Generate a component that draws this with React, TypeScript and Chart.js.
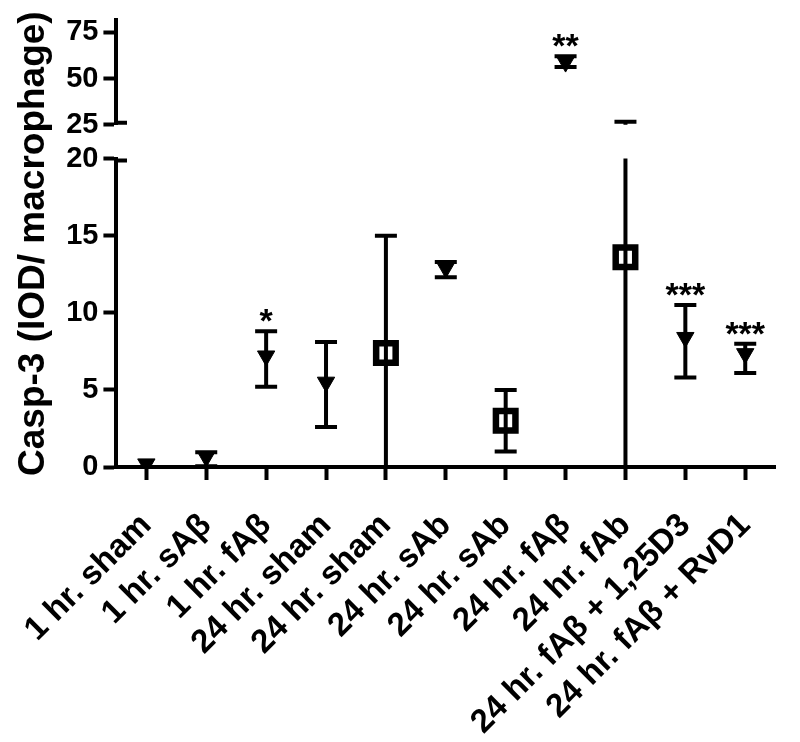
import React, { useEffect, useRef } from "react";
import { Chart, registerables } from "chart.js";

Chart.register(...registerables);

// ---------- data ----------
const categories = [
  "1 hr. sham",
  "1 hr. sAβ",
  "1 hr. fAβ",
  "24 hr. sham",
  "24 hr. sham",
  "24 hr. sAb",
  "24 hr. sAb",
  "24 hr. fAβ",
  "24 hr. fAb",
  "24 hr. fAβ + 1,25D3",
  "24 hr. fAβ + RvD1",
];
const markers = ["tri", "tri", "tri", "tri", "sq", "tri", "sq", "tri", "sq", "tri", "tri"];
const means = [0.2, 0.65, 7.2, 5.5, 7.4, 12.9, 3.0, 58.9, 13.6, 8.4, 7.35];
const errLow = [0.2, 0.05, 5.2, 2.6, 0, 12.3, 1.0, 56.2, 0, 5.8, 6.1];
const errHigh = [0.2, 0.95, 8.8, 8.1, 15, 13.3, 5.0, 62.1, 26.6, 10.5, 8.0];
const significance = ["", "", "*", "", "", "", "", "**", "", "***", "***"];

const lowTicks = [0, 5, 10, 15, 20];
const highTicks = [25, 50, 75];
const lowRange = [0, 20];
const highRange = [25, 81.5];
const yTitle = "Casp-3 (IOD/ macrophage)";

const FONT = "'Liberation Sans', Arial, Helvetica, sans-serif";

export default function App() {
  const ref = useRef<HTMLCanvasElement>(null);

  useEffect(() => {
    const canvas = ref.current;
    if (!canvas) return;

    const isTri = (i: number) => markers[i] === "tri";
    const triLow = means.map((v, i) => (isTri(i) && v <= lowRange[1] ? v : null));
    const triHigh = means.map((v, i) => (isTri(i) && v >= highRange[0] ? v : null));
    const sqLow = means.map((v, i) => (!isTri(i) && v <= lowRange[1] ? v : null));

    const overlay = {
      id: "overlay",
      beforeDatasetsDraw(chart: any) {
        const ctx = chart.ctx;
        const xs = chart.scales.x;
        const lo = chart.scales.yLow;
        const hi = chart.scales.yHigh;
        const pixOf = (v: number) => {
          if (v <= lo.max) return lo.getPixelForValue(Math.max(v, lo.min));
          if (v >= hi.min) return hi.getPixelForValue(Math.min(v, hi.max));
          return null;
        };
        ctx.save();
        ctx.strokeStyle = "#000";
        ctx.lineWidth = 4;
        ctx.lineCap = "butt";
        const capHalf = 11;
        for (let i = 0; i < categories.length; i++) {
          const a = errLow[i];
          const b = errHigh[i];
          if (b - a < 1e-6) continue;
          const x = xs.getPixelForValue(i);
          ctx.beginPath();
          if (a <= lo.max) {
            ctx.moveTo(x, lo.getPixelForValue(Math.max(a, lo.min)));
            ctx.lineTo(x, lo.getPixelForValue(Math.min(b, lo.max)));
          }
          if (b >= hi.min) {
            ctx.moveTo(x, hi.getPixelForValue(Math.max(a, hi.min)));
            ctx.lineTo(x, hi.getPixelForValue(Math.min(b, hi.max)));
          }
          for (const v of [a, b]) {
            const y = pixOf(v);
            if (y === null) continue;
            ctx.moveTo(x - capHalf, y);
            ctx.lineTo(x + capHalf, y);
          }
          ctx.stroke();
        }
        ctx.restore();
      },
      afterDraw(chart: any) {
        const ctx = chart.ctx;
        const xs = chart.scales.x;
        const lo = chart.scales.yLow;
        const hi = chart.scales.yHigh;
        ctx.save();
        // axis break marks
        ctx.strokeStyle = "#000";
        ctx.lineWidth = 4;
        ctx.beginPath();
        const ax = Math.round(lo.right);
        ctx.moveTo(ax, lo.top + 2);
        ctx.lineTo(ax + 11, lo.top + 2);
        ctx.moveTo(ax, hi.bottom - 2);
        ctx.lineTo(ax + 11, hi.bottom - 2);
        ctx.stroke();
        // significance marks
        ctx.fillStyle = "#000";
        ctx.font = `bold 34px ${FONT}`;
        ctx.textAlign = "center";
        ctx.textBaseline = "alphabetic";
        for (let i = 0; i < categories.length; i++) {
          const s = significance[i];
          if (!s) continue;
          const v = errHigh[i];
          const y = v <= lo.max ? lo.getPixelForValue(v) : hi.getPixelForValue(v);
          ctx.fillText(s, xs.getPixelForValue(i), y + 1);
        }
        ctx.restore();
      },
    };

    const yTickFont = { family: FONT, size: 29, weight: "bold" as const, lineHeight: 0.9 };

    const chart = new Chart(canvas, {
      type: "line",
      data: {
        labels: categories,
        datasets: [
          {
            data: triLow,
            yAxisID: "yLow",
            showLine: false,
            pointStyle: "triangle",
            pointRotation: 180,
            pointRadius: 10,
            pointBackgroundColor: "#000",
            pointBorderColor: "#000",
            pointBorderWidth: 1,
          },
          {
            data: triHigh,
            yAxisID: "yHigh",
            showLine: false,
            pointStyle: "triangle",
            pointRotation: 180,
            pointRadius: 10,
            pointBackgroundColor: "#000",
            pointBorderColor: "#000",
            pointBorderWidth: 1,
          },
          {
            data: sqLow,
            yAxisID: "yLow",
            showLine: false,
            pointStyle: "rect",
            pointRadius: 13.8,
            pointBackgroundColor: "rgba(0,0,0,0)",
            pointBorderColor: "#000",
            pointBorderWidth: 6.5,
          },
        ] as any,
      },
      options: {
        animation: false,
        responsive: false,
        events: [],
        layout: { padding: { top: 18, right: 14, bottom: 0, left: 0 } },
        plugins: { legend: { display: false }, tooltip: { enabled: false } },
        scales: {
          x: {
            type: "category",
            position: "bottom",
            offset: true,
            grid: {
              display: true,
              drawOnChartArea: false,
              drawTicks: true,
              tickLength: 13,
              tickWidth: 4,
              tickColor: "#000",
              offset: false,
            },
            border: { display: true, color: "#000", width: 4 },
            ticks: {
              autoSkip: false,
              maxRotation: 45,
              minRotation: 45,
              color: "#000",
              padding: 26,
              font: { family: FONT, size: 33, weight: "bold" },
            },
            afterFit: (s: any) => {
              s.height = 275;
            },
          },
          yTitle: {
            type: "linear",
            position: "left",
            weight: 10,
            grid: { display: false, drawTicks: false },
            border: { display: false },
            ticks: { display: false },
            title: {
              display: true,
              text: yTitle,
              color: "#000",
              font: { family: FONT, size: 37, weight: "bold" },
              padding: { top: 8, bottom: 0 },
            },
            afterFit: (s: any) => {
              s.width = 50;
            },
          },
          yHigh: {
            type: "linear",
            position: "left",
            stack: "ybroken",
            stackWeight: 105,
            weight: 3,
            min: highRange[0],
            max: highRange[1],
            afterBuildTicks: (s: any) => {
              s.ticks = highTicks.map((v) => ({ value: v }));
            },
            grid: { drawOnChartArea: false, drawTicks: true, tickLength: 13, tickWidth: 4, tickColor: "#000" },
            border: { display: true, color: "#000", width: 4 },
            ticks: { color: "#000", padding: 5, font: yTickFont },
            afterFit: (s: any) => {
              s.width = 63;
            },
          },
          yGap: {
            type: "linear",
            position: "left",
            stack: "ybroken",
            stackWeight: 34,
            weight: 2,
            display: false,
            afterFit: (s: any) => {
              s.width = 63;
            },
          },
          yLow: {
            type: "linear",
            position: "left",
            stack: "ybroken",
            stackWeight: 310,
            weight: 1,
            min: lowRange[0],
            max: lowRange[1],
            afterBuildTicks: (s: any) => {
              s.ticks = lowTicks.map((v) => ({ value: v }));
            },
            grid: { drawOnChartArea: false, drawTicks: true, tickLength: 13, tickWidth: 4, tickColor: "#000" },
            border: { display: true, color: "#000", width: 4 },
            ticks: { color: "#000", padding: 5, font: yTickFont },
            afterFit: (s: any) => {
              s.width = 63;
            },
          },
        } as any,
      },
      plugins: [overlay],
    });

    return () => chart.destroy();
  }, []);

  return (
    <div style={{ position: "fixed", left: 0, top: 0, width: 800, height: 742, background: "#fff" }}>
      <canvas ref={ref} width={800} height={742} style={{ display: "block" }} />
    </div>
  );
}
